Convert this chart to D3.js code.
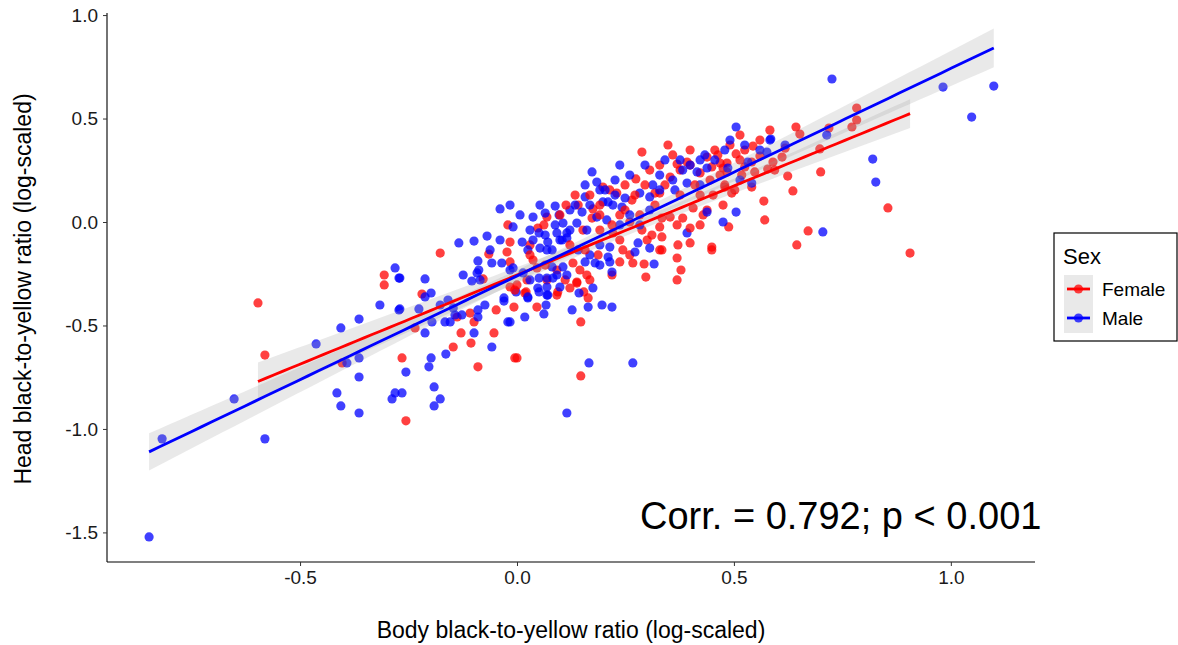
<!DOCTYPE html>
<html>
<head>
<meta charset="utf-8">
<script src="https://cdn.jsdelivr.net/npm/d3@7/dist/d3.min.js"></script>
<style>
  html, body { margin: 0; padding: 0; background: #fff; }
  svg { display: block; font-family: "Liberation Sans", Arial, sans-serif; }
</style>
</head>
<body>
<svg id="chart" width="1178" height="645"></svg>
<script>
// ---- Data (log-scaled black-to-yellow ratios) ----
const femaleX = [-0.306,-0.306,-0.597,-0.581,-0.265,-0.403,-0.256,-0.219,-0.235,-0.138,-0.108,-0.099,-0.129,-0.106,-0.147,-0.053,-0.048,-0.007,0.046,0.018,0.092,-0.090,-0.005,0.000,0.147,0.147,0.164,0.138,0.122,0.154,0.145,0.161,0.138,0.168,0.129,0.219,0.267,0.293,0.297,0.369,0.378,0.369,0.334,0.449,0.237,0.260,0.187,0.244,-0.177,-0.021,-0.016,-0.023,-0.065,-0.016,-0.078,0.037,0.048,0.062,0.069,0.030,0.000,0.023,0.046,0.069,0.092,0.094,0.111,-0.016,0.021,-0.005,0.348,0.288,0.359,0.369,0.438,0.463,0.468,0.274,0.230,0.198,0.141,0.175,0.265,0.318,0.329,0.353,0.376,0.392,0.399,0.422,0.449,0.475,0.484,0.479,0.475,0.452,0.429,0.438,0.406,0.382,0.369,0.353,0.334,0.329,0.311,0.334,0.371,0.399,0.449,0.329,0.300,0.288,0.260,0.237,0.221,0.191,0.173,0.152,0.783,0.772,0.783,0.719,0.698,0.643,0.652,0.544,0.505,0.560,0.611,0.618,0.590,0.594,0.541,0.624,0.700,0.636,0.569,0.571,0.671,0.645,0.488,0.855,0.906,0.541,0.502,0.495,0.479,0.484,0.525,0.548,0.578,
  0.099,0.113,0.134,0.168,0.191,0.214,0.249,0.272,0.295,0.306,0.329,0.341,0.399,0.410,0.422,0.445,0.456,0.491,0.514,0.518,0.399,0.422,0.318,0.249,0.219,0.191,0.122,0.157,0.065,0.030,0.237,0.283,0.376,0.468,0.525,0.560,0.583,0.514];
const femaleY = [-0.256,-0.304,-0.391,-0.643,-0.657,-0.681,-0.961,-0.348,-0.512,-0.459,-0.440,-0.483,-0.536,-0.585,-0.604,-0.536,-0.425,-0.411,-0.411,-0.343,-0.353,-0.700,-0.657,-0.657,-0.483,-0.744,-0.367,-0.295,-0.319,-0.338,-0.232,-0.256,-0.290,-0.280,-0.198,-0.256,-0.198,-0.203,-0.266,-0.174,-0.232,-0.280,-0.135,-0.135,-0.193,-0.159,-0.159,-0.135,-0.150,-0.014,-0.097,-0.145,-0.155,-0.193,-0.275,-0.184,-0.029,-0.014,0.024,-0.111,-0.304,-0.280,-0.222,-0.280,-0.232,-0.338,-0.280,-0.314,-0.338,-0.329,0.372,0.338,0.324,0.280,0.314,0.324,0.285,0.208,0.140,0.169,0.082,0.063,0.106,0.140,0.140,0.217,0.251,0.290,0.275,0.237,0.266,0.261,0.242,0.169,0.082,0.130,0.034,0.058,0.068,0.019,-0.014,0.024,0.019,-0.024,-0.063,-0.072,-0.111,-0.101,-0.121,-0.135,-0.087,-0.039,0.000,0.034,-0.053,-0.039,0.019,-0.039,0.551,0.459,0.493,0.454,0.353,0.459,0.425,0.367,0.329,0.319,0.314,0.357,0.290,0.251,0.290,0.222,0.242,0.150,0.101,0.010,-0.043,-0.111,-0.024,0.068,-0.150,0.169,0.155,0.140,0.179,0.285,0.266,0.242,0.256,
  0.034,0.082,0.130,0.130,0.082,0.155,0.179,0.130,0.179,0.251,0.275,0.179,0.348,0.179,0.130,0.203,0.348,0.372,0.300,0.227,-0.029,-0.014,0.082,0.058,-0.014,0.034,-0.111,-0.135,-0.208,-0.159,-0.087,0.034,0.130,0.227,0.348,0.396,0.444,0.420];

const maleX = [-0.848,-0.818,-0.652,-0.581,-0.463,-0.406,-0.364,-0.316,-0.272,-0.281,-0.272,-0.392,-0.364,-0.364,-0.415,-0.281,-0.265,-0.288,-0.406,-0.364,-0.256,-0.198,-0.212,-0.270,-0.226,-0.177,-0.159,-0.166,-0.154,-0.196,-0.212,-0.143,-0.127,-0.147,-0.099,-0.090,-0.090,-0.074,-0.058,-0.030,-0.021,-0.016,0.018,0.025,0.062,0.067,0.071,-0.002,0.051,-0.198,-0.203,-0.164,-0.191,-0.177,-0.191,0.115,0.127,0.164,0.196,0.219,0.166,0.267,0.143,0.175,0.316,0.219,0.191,0.106,0.115,0.214,0.180,0.157,-0.039,-0.134,-0.099,-0.069,-0.009,-0.090,-0.058,-0.035,-0.088,-0.092,-0.104,-0.124,-0.085,-0.212,-0.270,0.012,0.025,0.037,0.053,0.069,0.071,0.081,0.037,0.051,0.065,0.088,0.097,0.106,0.092,0.104,0.115,-0.016,-0.009,0.014,0.030,0.051,0.069,0.083,0.048,0.069,0.099,0.092,0.081,-0.030,0.025,0.069,0.173,0.184,0.157,0.122,0.115,0.150,0.161,0.198,0.210,0.221,0.242,0.249,0.283,0.306,0.313,0.359,0.382,0.415,0.438,0.364,0.392,0.422,0.438,0.475,0.392,0.279,0.272,0.306,0.191,0.214,0.210,0.168,0.141,0.099,0.138,0.184,0.207,0.237,0.283,0.726,0.982,1.099,1.048,0.714,0.585,0.505,0.576,0.532,0.486,0.541,0.820,0.827,0.505,0.705,
  0.134,0.157,0.168,0.203,0.226,0.260,0.295,0.329,0.341,0.376,0.399,0.433,0.456,0.479,0.491,0.525,0.560,0.306,0.260,0.226,0.191,0.122,0.088,0.065,0.030,0.007,-0.016,-0.039,-0.062,0.053,0.237,0.329,0.422,0.514,0.583,0.618];
const maleY = [-1.522,-1.048,-0.855,-1.048,-0.589,-0.512,-0.469,-0.401,-0.425,-0.222,-0.271,-0.681,-0.657,-0.749,-0.826,-0.826,-0.826,-0.855,-0.889,-0.923,-0.725,-0.343,-0.362,-0.420,-0.420,-0.401,-0.377,-0.483,-0.483,-0.483,-0.536,-0.449,-0.449,-0.415,-0.536,-0.459,-0.425,-0.401,-0.604,-0.382,-0.483,-0.483,-0.459,-0.367,-0.444,-0.401,-0.353,-0.338,-0.338,-0.657,-0.700,-0.638,-0.797,-0.855,-0.889,-0.923,-0.425,-0.411,-0.401,-0.411,-0.681,-0.681,-0.343,-0.319,-0.203,-0.242,-0.208,-0.217,-0.256,-0.193,-0.198,-0.193,0.063,-0.101,-0.092,-0.068,-0.024,-0.188,-0.198,-0.198,-0.232,-0.246,-0.285,-0.256,-0.280,-0.275,-0.271,-0.097,-0.135,-0.087,-0.126,-0.135,-0.097,-0.135,0.024,-0.053,0.043,0.077,0.034,-0.005,-0.053,-0.087,-0.053,-0.232,-0.222,-0.246,-0.280,-0.271,-0.271,-0.271,-0.319,-0.314,-0.314,-0.256,-0.217,-0.367,-0.362,-0.353,0.242,0.193,0.121,0.058,-0.077,0.048,-0.039,0.097,0.097,0.082,0.072,0.116,0.140,0.121,0.179,0.203,0.251,0.242,0.261,0.155,0.188,0.179,0.048,0.000,-0.053,-0.101,-0.145,-0.126,-0.111,-0.121,-0.169,-0.159,-0.135,-0.087,-0.005,0.024,0.010,-0.014,-0.014,0.691,0.652,0.657,0.507,0.420,0.401,0.459,0.338,0.290,0.261,0.188,0.304,0.193,0.048,-0.048,
  0.082,0.179,0.082,0.155,0.203,0.227,0.275,0.227,0.300,0.300,0.275,0.324,0.300,0.348,0.396,0.372,0.348,0.058,0.034,0.130,0.155,-0.039,-0.014,-0.063,-0.039,0.034,0.082,-0.087,-0.135,0.082,0.275,0.155,0.300,0.203,0.396,0.372];

const xTicks = [-0.5, 0.0, 0.5, 1.0];
const yTicks = [-1.5, -1.0, -0.5, 0.0, 0.5, 1.0];
const sexLabels = ["Female", "Male"];
const sexColors = ["#ff0000", "#0000ff"];
const annotation = "Corr. = 0.792; p < 0.001";

// ---- Layout ----
const svg = d3.select("#chart");
const pL = 107, pR = 1035, pT = 13, pB = 562;
const x = d3.scaleLinear().domain([-0.945, 1.194]).range([pL, pR]);
const y = d3.scaleLinear().domain([-1.643, 1.01]).range([pB, pT]);

const series = [
  { name: sexLabels[0], color: sexColors[0], xs: femaleX, ys: femaleY },
  { name: sexLabels[1], color: sexColors[1], xs: maleX, ys: maleY }
];

// interleave points so that sexes overlap as in the original
const pts = [];
const nMax = Math.max(femaleX.length, maleX.length);
for (let i = 0; i < nMax; i++) {
  series.forEach(s => { if (i < s.xs.length) pts.push({ x: s.xs[i], y: s.ys[i], c: s.color }); });
}

svg.append("g").selectAll("circle").data(pts).enter().append("circle")
  .attr("cx", d => x(d.x)).attr("cy", d => y(d.y)).attr("r", 4.6)
  .attr("fill", d => d.c).attr("fill-opacity", 0.75);

// ---- Linear fits with 95% confidence band ----
function fit(xs, ys) {
  const n = xs.length;
  const mx = d3.mean(xs), my = d3.mean(ys);
  let sxx = 0, sxy = 0;
  for (let i = 0; i < n; i++) { sxx += (xs[i]-mx)**2; sxy += (xs[i]-mx)*(ys[i]-my); }
  const b = sxy / sxx, a = my - b * mx;
  let sse = 0;
  for (let i = 0; i < n; i++) sse += (ys[i] - a - b*xs[i])**2;
  const s = Math.sqrt(sse / (n - 2));
  const t = 1.97;
  const [x0, x1] = d3.extent(xs);
  const grid = d3.range(0, 81).map(k => x0 + (x1 - x0) * k / 80);
  return grid.map(g => {
    const yh = a + b * g;
    const se = s * Math.sqrt(1/n + (g-mx)**2 / sxx);
    return { x: g, y: yh, lo: yh - t*se, hi: yh + t*se };
  });
}
const fits = series.map(s => ({ s, f: fit(s.xs, s.ys) }));

const area = d3.area().x(d => x(d.x)).y0(d => y(d.lo)).y1(d => y(d.hi));
const line = d3.line().x(d => x(d.x)).y(d => y(d.y));
fits.forEach(({ f }) => {
  svg.append("path").attr("d", area(f)).attr("fill", "#999999").attr("fill-opacity", 0.22);
});
fits.forEach(({ s, f }) => {
  svg.append("path").attr("d", line(f)).attr("fill", "none")
    .attr("stroke", s.color).attr("stroke-width", 2.8);
});

// ---- Axes ----
const fmt = d => d.toFixed(1);
const xAxis = svg.append("g").attr("transform", `translate(0,${pB})`)
  .call(d3.axisBottom(x).tickValues(xTicks).tickFormat(fmt).tickSize(4).tickPadding(5).tickSizeOuter(0));
const yAxis = svg.append("g").attr("transform", `translate(${pL},0)`)
  .call(d3.axisLeft(y).tickValues(yTicks).tickFormat(fmt).tickSize(4).tickPadding(5).tickSizeOuter(0));
[xAxis, yAxis].forEach(g => {
  g.select(".domain").attr("stroke", "#000").attr("stroke-width", 1.1);
  g.selectAll(".tick line").attr("stroke", "#333");
  g.selectAll(".tick text").attr("fill", "#1a1a1a").style("font-size", "19px")
    .style("font-family", '"Liberation Sans", Arial, sans-serif');
});
xAxis.select(".domain").attr("d", `M${pL},0H${pR}`);
yAxis.select(".domain").attr("d", `M0,${pT}V${pB}`);

svg.append("text").attr("x", 571).attr("y", 638)
  .attr("text-anchor", "middle").style("font-size", "23px").attr("fill", "#000")
  .text("Body black-to-yellow ratio (log-scaled)");
svg.append("text").attr("transform", `translate(31,289) rotate(-90)`)
  .attr("text-anchor", "middle").style("font-size", "23px").attr("fill", "#000")
  .text("Head black-to-yellow ratio (log-scaled)");

// ---- Annotation ----
svg.append("text").attr("x", 640).attr("y", 529)
  .style("font-size", "38px").attr("fill", "#000").text(annotation);

// ---- Legend ----
const lg = svg.append("g");
lg.append("rect").attr("x", 1054).attr("y", 233).attr("width", 123).attr("height", 108)
  .attr("fill", "#fff").attr("stroke", "#000").attr("stroke-width", 1.2);
lg.append("text").attr("x", 1063).attr("y", 264).style("font-size", "22px").text("Sex");
series.forEach((s, i) => {
  const cy = 289 + i * 29;
  lg.append("rect").attr("x", 1064).attr("y", cy - 14).attr("width", 29).attr("height", 29)
    .attr("fill", "#999999").attr("fill-opacity", 0.22);
  lg.append("line").attr("x1", 1067).attr("x2", 1090).attr("y1", cy).attr("y2", cy)
    .attr("stroke", s.color).attr("stroke-width", 2.8);
  lg.append("circle").attr("cx", 1078.5).attr("cy", cy).attr("r", 4.6)
    .attr("fill", s.color).attr("fill-opacity", 0.75);
  lg.append("text").attr("x", 1102).attr("y", cy + 7).style("font-size", "19px").text(s.name);
});
</script>
</body>
</html>
